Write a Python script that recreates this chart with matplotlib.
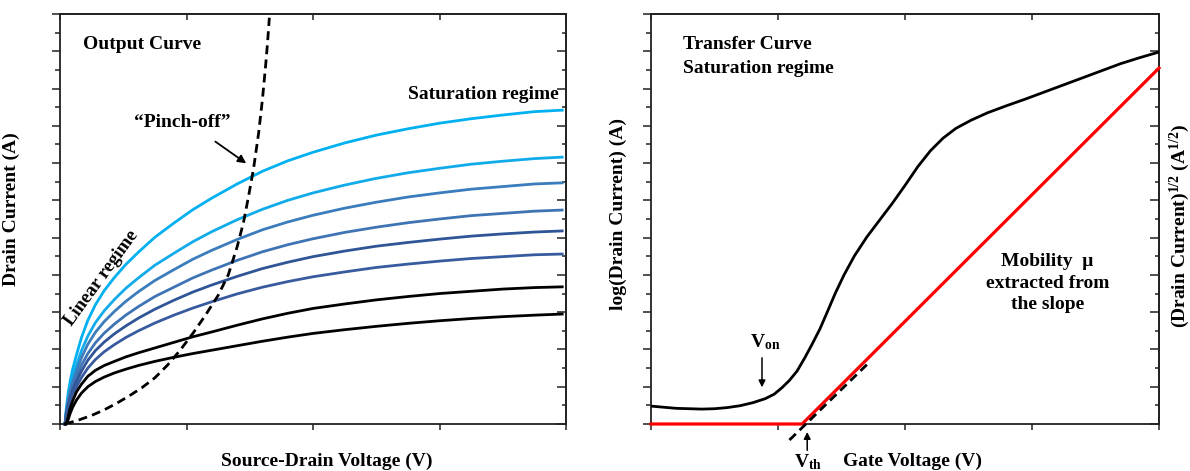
import numpy as np
import matplotlib
matplotlib.use("Agg")
import matplotlib.pyplot as plt
from matplotlib.ticker import MultipleLocator

plt.rcParams['font.family'] = ['Liberation Serif', 'DejaVu Serif']
plt.rcParams['font.weight'] = 'bold'
plt.rcParams['axes.labelweight'] = 'bold'
plt.rcParams['mathtext.default'] = 'regular'

# output curve (drain current vs source-drain voltage)
VDS = [0.04, 0.05, 0.065, 0.08, 0.10, 0.13, 0.17, 0.22, 0.28, 0.35, 0.43, 0.52, 0.62, 0.75,
       0.90, 1.05, 1.20, 1.40, 1.60, 1.80, 2.00, 2.25, 2.50, 2.75, 3.00, 3.25, 3.50, 3.75, 3.97]
ID_1 = [0, 0.42, 0.84, 1.14, 1.47, 1.85, 2.32, 2.78, 3.20, 3.58, 3.93, 4.28, 4.61, 5.01,
        5.39, 5.75, 6.06, 6.44, 6.78, 7.06, 7.29, 7.54, 7.75, 7.92, 8.07, 8.19, 8.29, 8.38, 8.42]
ID_2 = [0, 0.36, 0.72, 0.97, 1.25, 1.58, 1.97, 2.36, 2.72, 3.04, 3.34, 3.64, 3.92, 4.26,
        4.58, 4.89, 5.16, 5.48, 5.76, 6.00, 6.20, 6.41, 6.59, 6.74, 6.86, 6.97, 7.05, 7.12, 7.16]
ID_3 = [0, 0.32, 0.65, 0.87, 1.13, 1.42, 1.78, 2.14, 2.46, 2.75, 3.02, 3.29, 3.55, 3.85,
        4.14, 4.42, 4.66, 4.95, 5.21, 5.42, 5.60, 5.79, 5.95, 6.09, 6.20, 6.30, 6.37, 6.44, 6.47]
ID_4 = [0, 0.29, 0.57, 0.77, 1.00, 1.26, 1.58, 1.89, 2.18, 2.44, 2.68, 2.92, 3.15, 3.42,
        3.67, 3.92, 4.13, 4.39, 4.62, 4.81, 4.97, 5.14, 5.28, 5.40, 5.50, 5.59, 5.65, 5.71, 5.74]
ID_5 = [0, 0.26, 0.52, 0.70, 0.91, 1.14, 1.42, 1.71, 1.97, 2.20, 2.42, 2.63, 2.84, 3.08,
        3.32, 3.54, 3.73, 3.96, 4.17, 4.34, 4.49, 4.64, 4.77, 4.87, 4.96, 5.04, 5.10, 5.15, 5.18]
ID_6 = [0, 0.23, 0.46, 0.62, 0.80, 1.00, 1.25, 1.50, 1.73, 1.94, 2.13, 2.32, 2.50, 2.71,
        2.92, 3.11, 3.28, 3.49, 3.67, 3.82, 3.95, 4.08, 4.20, 4.29, 4.37, 4.44, 4.49, 4.54, 4.56]
ID_7 = [0, 0, 0.20, 0.42, 0.62, 0.86, 1.07, 1.28, 1.44, 1.57, 1.68, 1.80, 1.91, 2.04,
        2.19, 2.34, 2.47, 2.65, 2.82, 2.97, 3.10, 3.22, 3.33, 3.42, 3.50, 3.56, 3.62, 3.66, 3.68]
ID_8 = [0, 0, 0.12, 0.28, 0.45, 0.64, 0.83, 1.00, 1.14, 1.26, 1.37, 1.47, 1.57, 1.68,
        1.79, 1.89, 1.98, 2.10, 2.22, 2.33, 2.43, 2.53, 2.62, 2.70, 2.77, 2.83, 2.88, 2.92, 2.95]
CURVES = [ID_1, ID_2, ID_3, ID_4, ID_5, ID_6, ID_7, ID_8]
COLORS = ['#00B0F0', '#12ABEA', '#3A7CBC', '#3F74B4', '#2F5597', '#385A9E', '#000000', '#000000']

# pinch-off boundary
PINCH_X = [0.04, 0.15, 0.25, 0.35, 0.45, 0.55, 0.65, 0.75, 0.85, 0.95, 1.05, 1.15, 1.25,
           1.33, 1.40, 1.45, 1.49, 1.53, 1.57, 1.60, 1.625, 1.64, 1.655]
PINCH_Y = [0, 0.11, 0.23, 0.38, 0.56, 0.76, 0.98, 1.24, 1.58, 1.98, 2.43, 2.92, 3.45,
           4.0, 4.75, 5.40, 6.1, 6.85, 7.8, 8.7, 9.6, 10.2, 10.9]

# transfer curve
VG = [0, 0.1, 0.2, 0.3, 0.4, 0.5, 0.6, 0.7, 0.8, 0.9, 0.97, 1.03, 1.09, 1.15, 1.21, 1.27,
      1.33, 1.39, 1.45, 1.52, 1.60, 1.70, 1.80, 1.90, 2.00, 2.10, 2.20, 2.30, 2.40, 2.52,
      2.65, 2.80, 2.95, 3.10, 3.25, 3.40, 3.55, 3.70, 3.85, 4.0]
LOG_ID = [0.48, 0.45, 0.42, 0.41, 0.40, 0.41, 0.44, 0.49, 0.57, 0.68, 0.80, 0.97, 1.17, 1.42,
          1.77, 2.15, 2.55, 3.02, 3.50, 4.0, 4.5, 5.02, 5.47, 5.92, 6.40, 6.90, 7.33, 7.67,
          7.93, 8.15, 8.35, 8.54, 8.72, 8.91, 9.10, 9.29, 9.48, 9.67, 9.83, 9.98]
SQRT_X = [0, 1.19, 4.0]
SQRT_Y = [0, 0, 9.55]
TANGENT_X = [1.09, 1.72]
TANGENT_Y = [-0.43, 1.66]

SPINE = '#222222'


def style_axes(ax):
    ax.set_xlim(0, 4)
    ax.set_ylim(0, 11)
    ax.xaxis.set_major_locator(MultipleLocator(1))
    ax.yaxis.set_major_locator(MultipleLocator(1))
    ax.yaxis.set_minor_locator(MultipleLocator(0.5))
    ax.tick_params(which='both', direction='out', labelbottom=False, labelleft=False,
                   width=1.1, color=SPINE)
    ax.tick_params(axis='x', which='major', length=4.5)
    ax.tick_params(axis='y', which='major', length=6)
    ax.tick_params(axis='y', which='minor', length=3.5)
    for s in ax.spines.values():
        s.set_linewidth(1.3)
        s.set_color(SPINE)

    top = ax.secondary_xaxis('top')
    top.xaxis.set_major_locator(MultipleLocator(1))
    top.tick_params(direction='in', length=4.5, width=1.1, color=SPINE, labeltop=False)
    top.spines['top'].set_linewidth(1.3)
    top.spines['top'].set_color(SPINE)

    right = ax.secondary_yaxis('right')
    right.yaxis.set_major_locator(MultipleLocator(1))
    right.yaxis.set_minor_locator(MultipleLocator(0.5))
    right.tick_params(which='both', direction='in', width=1.1, color=SPINE, labelright=False)
    right.tick_params(which='major', length=6.5)
    right.tick_params(which='minor', length=3)
    right.spines['right'].set_linewidth(1.3)
    right.spines['right'].set_color(SPINE)


fig = plt.figure(figsize=(11.9, 4.71), dpi=100)
ax1 = fig.add_axes([60 / 1190, 47 / 471, 506 / 1190, 410 / 471])
ax2 = fig.add_axes([651 / 1190, 47 / 471, 508 / 1190, 410 / 471])

# 📊 output curve
style_axes(ax1)
for ys, c in zip(CURVES, COLORS):
    ax1.plot(VDS, ys, color=c, lw=2, clip_on=False, zorder=3, solid_joinstyle='round')
ax1.plot(PINCH_X, PINCH_Y, color='k', lw=2, ls=(0, (3.2, 1.9)), zorder=4)

ax1.text(0.18, 10.17, 'Output Curve', fontsize=14, ha='left', va='center')
ax1.text(3.94, 8.83, 'Saturation regime', fontsize=14, ha='right', va='center')
ax1.text(0.33, 3.92, 'Linear regime', fontsize=13.5, ha='center', va='center',
         rotation=54, rotation_mode='anchor')
ax1.text(0.97, 8.08, '\u201cPinch-off\u201d', fontsize=14, ha='center', va='center')
ax1.annotate('', xy=(1.49, 6.95), xytext=(1.21, 7.62),
             arrowprops=dict(arrowstyle='-|>', color='k', lw=1.3, mutation_scale=12))

ax1.set_xlabel('Source-Drain Voltage (V)', fontsize=14)
ax1.set_ylabel('Drain Current (A)', fontsize=14)
ax1.xaxis.set_label_coords(0.528, -0.071)
ax1.yaxis.set_label_coords(-0.079, 0.523)

# 📊 transfer curve
style_axes(ax2)
ax2.plot(VG, LOG_ID, color='k', lw=2, zorder=3, solid_joinstyle='round')
ax2.plot(SQRT_X, SQRT_Y, color='#FF0000', lw=2.3, clip_on=False, zorder=4)
ax2.plot(TANGENT_X, TANGENT_Y, color='k', lw=2, ls=(0, (3.2, 1.9)), clip_on=False, zorder=5)

ax2.text(0.25, 10.17, 'Transfer Curve', fontsize=14, ha='left', va='center')
ax2.text(0.25, 9.55, 'Saturation regime', fontsize=14, ha='left', va='center')
ax2.text(3.12, 3.78, 'Mobility  \u03bc\nextracted from\nthe slope', fontsize=14,
         ha='center', va='center', linespacing=1.35)

ax2.annotate('', xy=(0.874, 0.91), xytext=(0.874, 1.85),
             arrowprops=dict(arrowstyle='-|>', color='k', lw=1.1, mutation_scale=10))
ax2.text(0.90, 2.2, r'V$_{on}$', fontsize=14, ha='center', va='center')
ax2.annotate('', xy=(1.23, -0.14), xytext=(1.23, -0.78), annotation_clip=False,
             arrowprops=dict(arrowstyle='-|>', color='k', lw=1.1, mutation_scale=10))
ax2.text(1.24, -1.03, r'V$_{th}$', fontsize=14, ha='center', va='center', clip_on=False)

ax2.set_xlabel('Gate Voltage (V)', fontsize=14)
ax2.set_ylabel('log(Drain Current) (A)', fontsize=14)
ax2.xaxis.set_label_coords(0.514, -0.071)
ax2.yaxis.set_label_coords(-0.047, 0.511)
ax2.text(1.041, 0.483, r'(Drain Current)$^{1/2}$ (A$^{1/2}$)', fontsize=14,
         rotation=90, ha='center', va='center', transform=ax2.transAxes)

fig.savefig('out.png', dpi=100)
